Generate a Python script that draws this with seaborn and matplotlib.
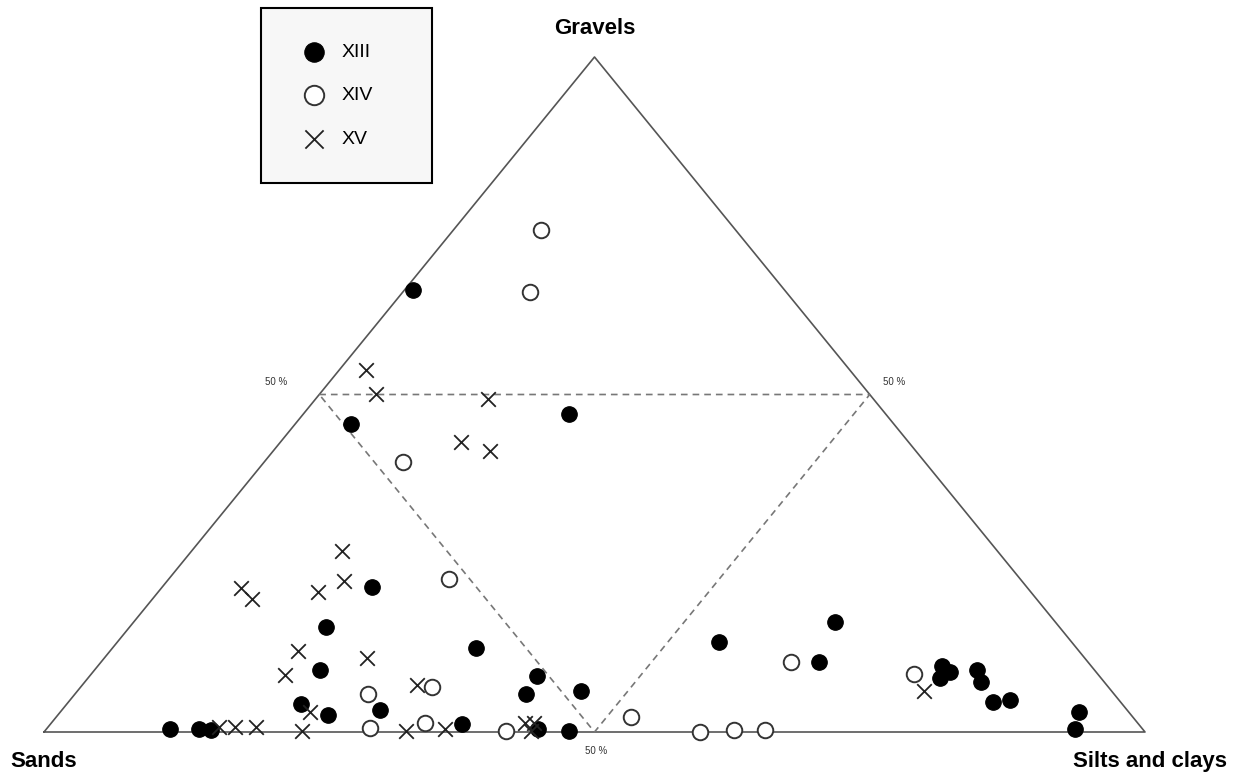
import pandas as pd
import matplotlib.pyplot as plt
import seaborn as sns

# ============================================================
# DATA  (gravel %, silt+clay %; sand = remainder)
# ============================================================

xiii_gravel = [21.5, 15.5, 12.4, 9.2, 4.2, 2.5, 3.2, 0.5, 0.5, 0.3, 1.2, 8.3, 5.7, 6.1,
               0.4, 0.2, 13.3, 16.3, 10.4, 9.8, 8.9, 8.0, 9.2, 7.4, 4.4, 4.7, 2.9, 0.5,
               65.5, 47.1, 45.7]
xiii_silt = [19.0, 17.9, 33.0, 20.5, 21.2, 24.5, 28.9, 11.2, 13.8, 15.0, 37.4, 40.6, 40.9, 45.7,
             44.7, 47.6, 54.7, 63.7, 65.2, 76.7, 77.8, 77.4, 80.1, 81.4, 84.0, 85.4, 92.6, 93.4,
             0.8, 24.1, 5.0]

xiv_gravel = [22.6, 6.6, 5.6, 0.6, 1.4, 0.1, 2.2, 0.0, 0.3, 0.3, 10.3, 8.6, 74.4, 65.2, 40.0]
xiv_silt = [25.5, 31.9, 26.6, 29.3, 33.9, 41.9, 52.2, 59.6, 62.5, 65.3, 62.7, 74.7, 7.9, 11.5, 12.6]

xv_gravel = [26.8, 22.3, 21.3, 19.7, 20.7, 12.0, 11.0, 8.4, 7.0, 3.0, 0.7, 0.7, 0.7, 0.2,
             0.2, 0.4, 1.4, 1.4, 0.1, 6.1, 53.7, 50.1, 49.3, 42.9, 41.7]
xv_silt = [13.7, 16.1, 7.2, 9.0, 14.5, 17.1, 23.8, 17.7, 30.4, 22.7, 15.5, 17.0, 18.9, 23.3,
           32.8, 36.2, 43.0, 43.8, 44.2, 76.9, 2.4, 5.1, 15.7, 16.4, 19.7]

vertex_labels = ["Sands", "Gravels", "Silts and clays"]
series_names = ["XIII", "XIV", "XV"]


def to_xy(gravel, silt):
    df = pd.DataFrame({"gravel": gravel, "silt": silt})
    df["x"] = df["silt"] / 100 + df["gravel"] / 200
    df["y"] = df["gravel"] / 100
    return df


d13 = to_xy(xiii_gravel, xiii_silt)
d14 = to_xy(xiv_gravel, xiv_silt)
d15 = to_xy(xv_gravel, xv_silt)

# ============================================================
# PLOT
# ============================================================

sns.set_theme(style="white")
plt.rcParams["font.family"] = ["Liberation Sans", "DejaVu Sans"]
plt.rcParams["text.color"] = "black"

fig = plt.figure(figsize=(12.42, 7.78), dpi=100)
ax = fig.add_axes([0, 0, 1, 1])

# outer triangle
ax.plot([0, 1, 0.5, 0], [0, 0, 1, 0], color="#555555", lw=1.2, zorder=1)
# inner 50% triangle
ax.plot([0.25, 0.75, 0.5, 0.25], [0.5, 0.5, 0, 0.5], color="#777777", lw=1.2,
        ls=(0, (4, 3)), zorder=1)

sns.scatterplot(data=d13, x="x", y="y", ax=ax, marker="o", s=125, color="black",
                edgecolor="black", linewidth=0.8, label=series_names[0], zorder=3)
sns.scatterplot(data=d14, x="x", y="y", ax=ax, marker="o", s=125, color="white",
                edgecolor="#333333", linewidth=1.4, label=series_names[1], zorder=3)
sns.scatterplot(data=d15, x="x", y="y", ax=ax, marker="x", s=110, color="#222222",
                linewidth=1.3, label=series_names[2], zorder=3)

# vertex labels
ax.text(0.0, -0.044, vertex_labels[0], ha="center", va="center", fontsize=16, fontweight="bold")
ax.text(0.5, 1.0415, vertex_labels[1], ha="center", va="center", fontsize=16, fontweight="bold")
ax.text(1.0045, -0.044, vertex_labels[2], ha="center", va="center", fontsize=16, fontweight="bold")

# 50 % marks
ax.text(0.2107, 0.5185, "50 %", ha="center", va="center", fontsize=7, color="#333333")
ax.text(0.772, 0.5185, "50 %", ha="center", va="center", fontsize=7, color="#333333")
ax.text(0.5014, -0.028, "50 %", ha="center", va="center", fontsize=7, color="#333333")

ax.set_xlim(-44 / 1101, 1198 / 1101)
ax.set_ylim(-46 / 675, 732 / 675)
ax.set_xlabel("")
ax.set_ylabel("")
ax.axis("off")

leg = ax.legend(loc="upper left",
                bbox_to_anchor=(261 / 1242, 1 - 184 / 778, 171 / 1242, 176 / 778),
                bbox_transform=fig.transFigure, mode="expand", markerscale=1.25,
                fontsize=14, borderpad=1.8, labelspacing=1.35, handlelength=1.9,
                handletextpad=0.43, borderaxespad=0, fancybox=False, framealpha=1,
                facecolor="#f7f7f7", edgecolor="black")
leg.get_frame().set_linewidth(1.5)

fig.savefig("out.png", dpi=100, facecolor="white")
